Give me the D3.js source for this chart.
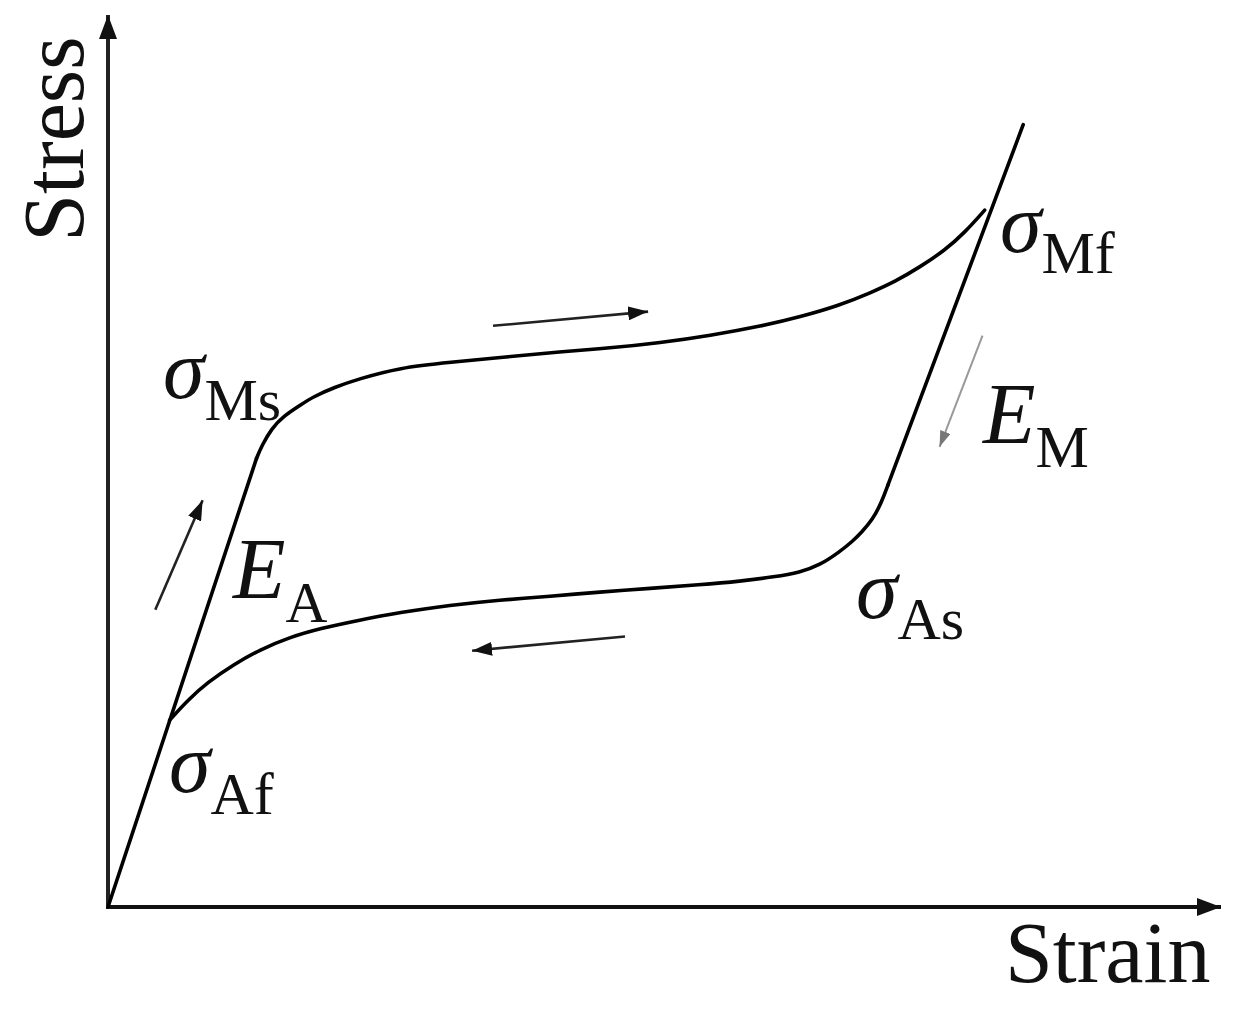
<!DOCTYPE html>
<html>
<head>
<meta charset="utf-8">
<script src="https://cdn.jsdelivr.net/npm/d3@7"></script>
<style>
  html, body { margin: 0; padding: 0; background: #fff; }
  svg { display: block; }
  text { font-family: "Liberation Serif", "Times New Roman", serif; fill: #111; }
</style>
</head>
<body>
<svg id="chart" width="1243" height="1011"></svg>
<script>
// ---- Data (arbitrary strain / stress units, 0-100) ----
const axisLabels = { x: "Strain", y: "Stress" };

// Elastic loading of austenite (E_A), origin -> sigma_Ms
const loadingLine = [[0, 0], [13.5, 50.4]];

// Forward transformation plateau: sigma_Ms -> sigma_Mf
const upperPlateau = [
  [13.5, 50.4], [14.0, 51.9], [14.9, 53.8], [15.9, 55.1], [17.5, 56.4],
  [18.6, 57.3], [20.6, 58.4], [22.7, 59.3], [26.5, 60.6], [31.1, 61.2],
  [36.2, 61.8], [41.1, 62.4], [45.6, 62.8], [50.2, 63.4], [54.7, 64.2],
  [59.5, 65.3], [62.9, 66.3], [66.5, 67.6], [69.3, 69.0], [71.6, 70.3],
  [73.8, 71.9], [76.1, 73.8], [77.9, 75.8], [79.7, 78.3]
];

// Elastic line of martensite (E_M)
const martensiteLine = [[83.2, 87.9], [70.9, 47.4]];

// Reverse transformation plateau: sigma_As -> sigma_Af
const lowerPlateau = [
  [70.9, 47.4], [70.3, 45.4], [69.5, 43.5], [68.5, 42.1], [67.7, 41.1],
  [66.5, 39.9], [64.7, 38.4], [62.9, 37.6], [60.6, 37.1], [57.5, 36.6],
  [53.8, 36.2], [49.3, 35.8], [44.7, 35.4], [40.2, 34.9], [35.6, 34.5],
  [31.1, 33.9], [26.5, 33.1], [22.7, 32.2], [19.3, 31.3], [16.5, 30.3],
  [13.8, 28.9], [11.5, 27.3], [9.0, 25.2], [7.3, 23.3], [5.6, 21.0]
];

// Direction arrows: [tail, head]
const arrows = [
  { name: "loadA",   pts: [[4.3, 33.4], [8.6, 45.7]],  gray: false },
  { name: "upper",   pts: [[35.0, 65.3], [49.1, 66.9]], gray: false },
  { name: "lower",   pts: [[47.0, 30.4], [33.1, 28.8]], gray: false },
  { name: "unloadM", pts: [[79.5, 64.2], [75.6, 51.7]], gray: true }
];

// ---- Scales ----
const svg = d3.select("#chart");
const x = d3.scaleLinear().domain([0, 100]).range([108, 1208]);
const y = d3.scaleLinear().domain([0, 100]).range([907, 17]);

// ---- Axes (arrowed lines) ----
const defs = svg.append("defs");
function headMarker(id, color, w, h) {
  defs.append("marker")
    .attr("id", id)
    .attr("viewBox", `0 0 ${w} ${h}`)
    .attr("refX", w).attr("refY", h / 2)
    .attr("markerWidth", w).attr("markerHeight", h)
    .attr("markerUnits", "userSpaceOnUse")
    .attr("orient", "auto")
    .append("path")
    .attr("d", `M0,0 L${w},${h / 2} L0,${h} Z`)
    .attr("fill", color);
}
headMarker("axisHead", "#111", 24, 18);
headMarker("arrHead", "#111", 20, 14);
headMarker("arrHeadGray", "#777", 16, 11);

const axisG = svg.append("g");
axisG.append("line")
  .attr("x1", x(0)).attr("y1", y(0))
  .attr("x2", 1221).attr("y2", y(0))
  .attr("stroke", "#111").attr("stroke-width", 4)
  .attr("marker-end", "url(#axisHead)");
axisG.append("line")
  .attr("x1", x(0)).attr("y1", y(0) + 2)
  .attr("x2", x(0)).attr("y2", 15)
  .attr("stroke", "#222").attr("stroke-width", 4)
  .attr("marker-end", "url(#axisHead)");

axisG.append("text")
  .attr("x", 1005).attr("y", 982)
  .attr("font-size", 86)
  .text(axisLabels.x);
axisG.append("text")
  .attr("transform", "translate(83,139) rotate(-90)")
  .attr("text-anchor", "middle")
  .attr("font-size", 86)
  .text(axisLabels.y);

// ---- Curves ----
const straight = d3.line().x(d => x(d[0])).y(d => y(d[1]));
const smooth = d3.line().x(d => x(d[0])).y(d => y(d[1])).curve(d3.curveBasis);

const curveG = svg.append("g").attr("fill", "none").attr("stroke", "#000")
  .attr("stroke-width", 3.6).attr("stroke-linecap", "round").attr("stroke-linejoin", "round");
curveG.append("path").attr("d", straight(loadingLine));
curveG.append("path").attr("d", smooth(upperPlateau));
curveG.append("path").attr("d", straight(martensiteLine));
curveG.append("path").attr("d", smooth(lowerPlateau));

// ---- Direction arrows ----
svg.append("g").selectAll("line").data(arrows).join("line")
  .attr("x1", d => x(d.pts[0][0])).attr("y1", d => y(d.pts[0][1]))
  .attr("x2", d => x(d.pts[1][0])).attr("y2", d => y(d.pts[1][1]))
  .attr("stroke", d => d.gray ? "#999" : "#222")
  .attr("stroke-width", d => d.gray ? 2 : 2.6)
  .attr("marker-end", d => d.gray ? "url(#arrHeadGray)" : "url(#arrHead)");

// ---- Annotations ----
function symbolLabel(px, py, main, sub, italic, mainSize, subSize, shift) {
  const t = svg.append("text").attr("x", px).attr("y", py);
  t.append("tspan").attr("font-size", mainSize)
    .attr("font-style", italic ? "italic" : "normal").text(main);
  t.append("tspan").attr("font-size", subSize).attr("dy", shift)
    .attr("font-style", "normal")
    .attr("dx", italic ? 0 : -3).text(sub);
}
symbolLabel(163, 398, "σ", "Ms", true, 84, 60, 22);
symbolLabel(169, 792, "σ", "Af", true, 84, 60, 22);
symbolLabel(1000, 252, "σ", "Mf", true, 84, 60, 21);
symbolLabel(856, 618, "σ", "As", true, 84, 60, 21);
symbolLabel(233, 598, "E", "A", true, 86, 58, 24);
symbolLabel(983, 443, "E", "M", true, 86, 60, 24);
</script>
</body>
</html>
